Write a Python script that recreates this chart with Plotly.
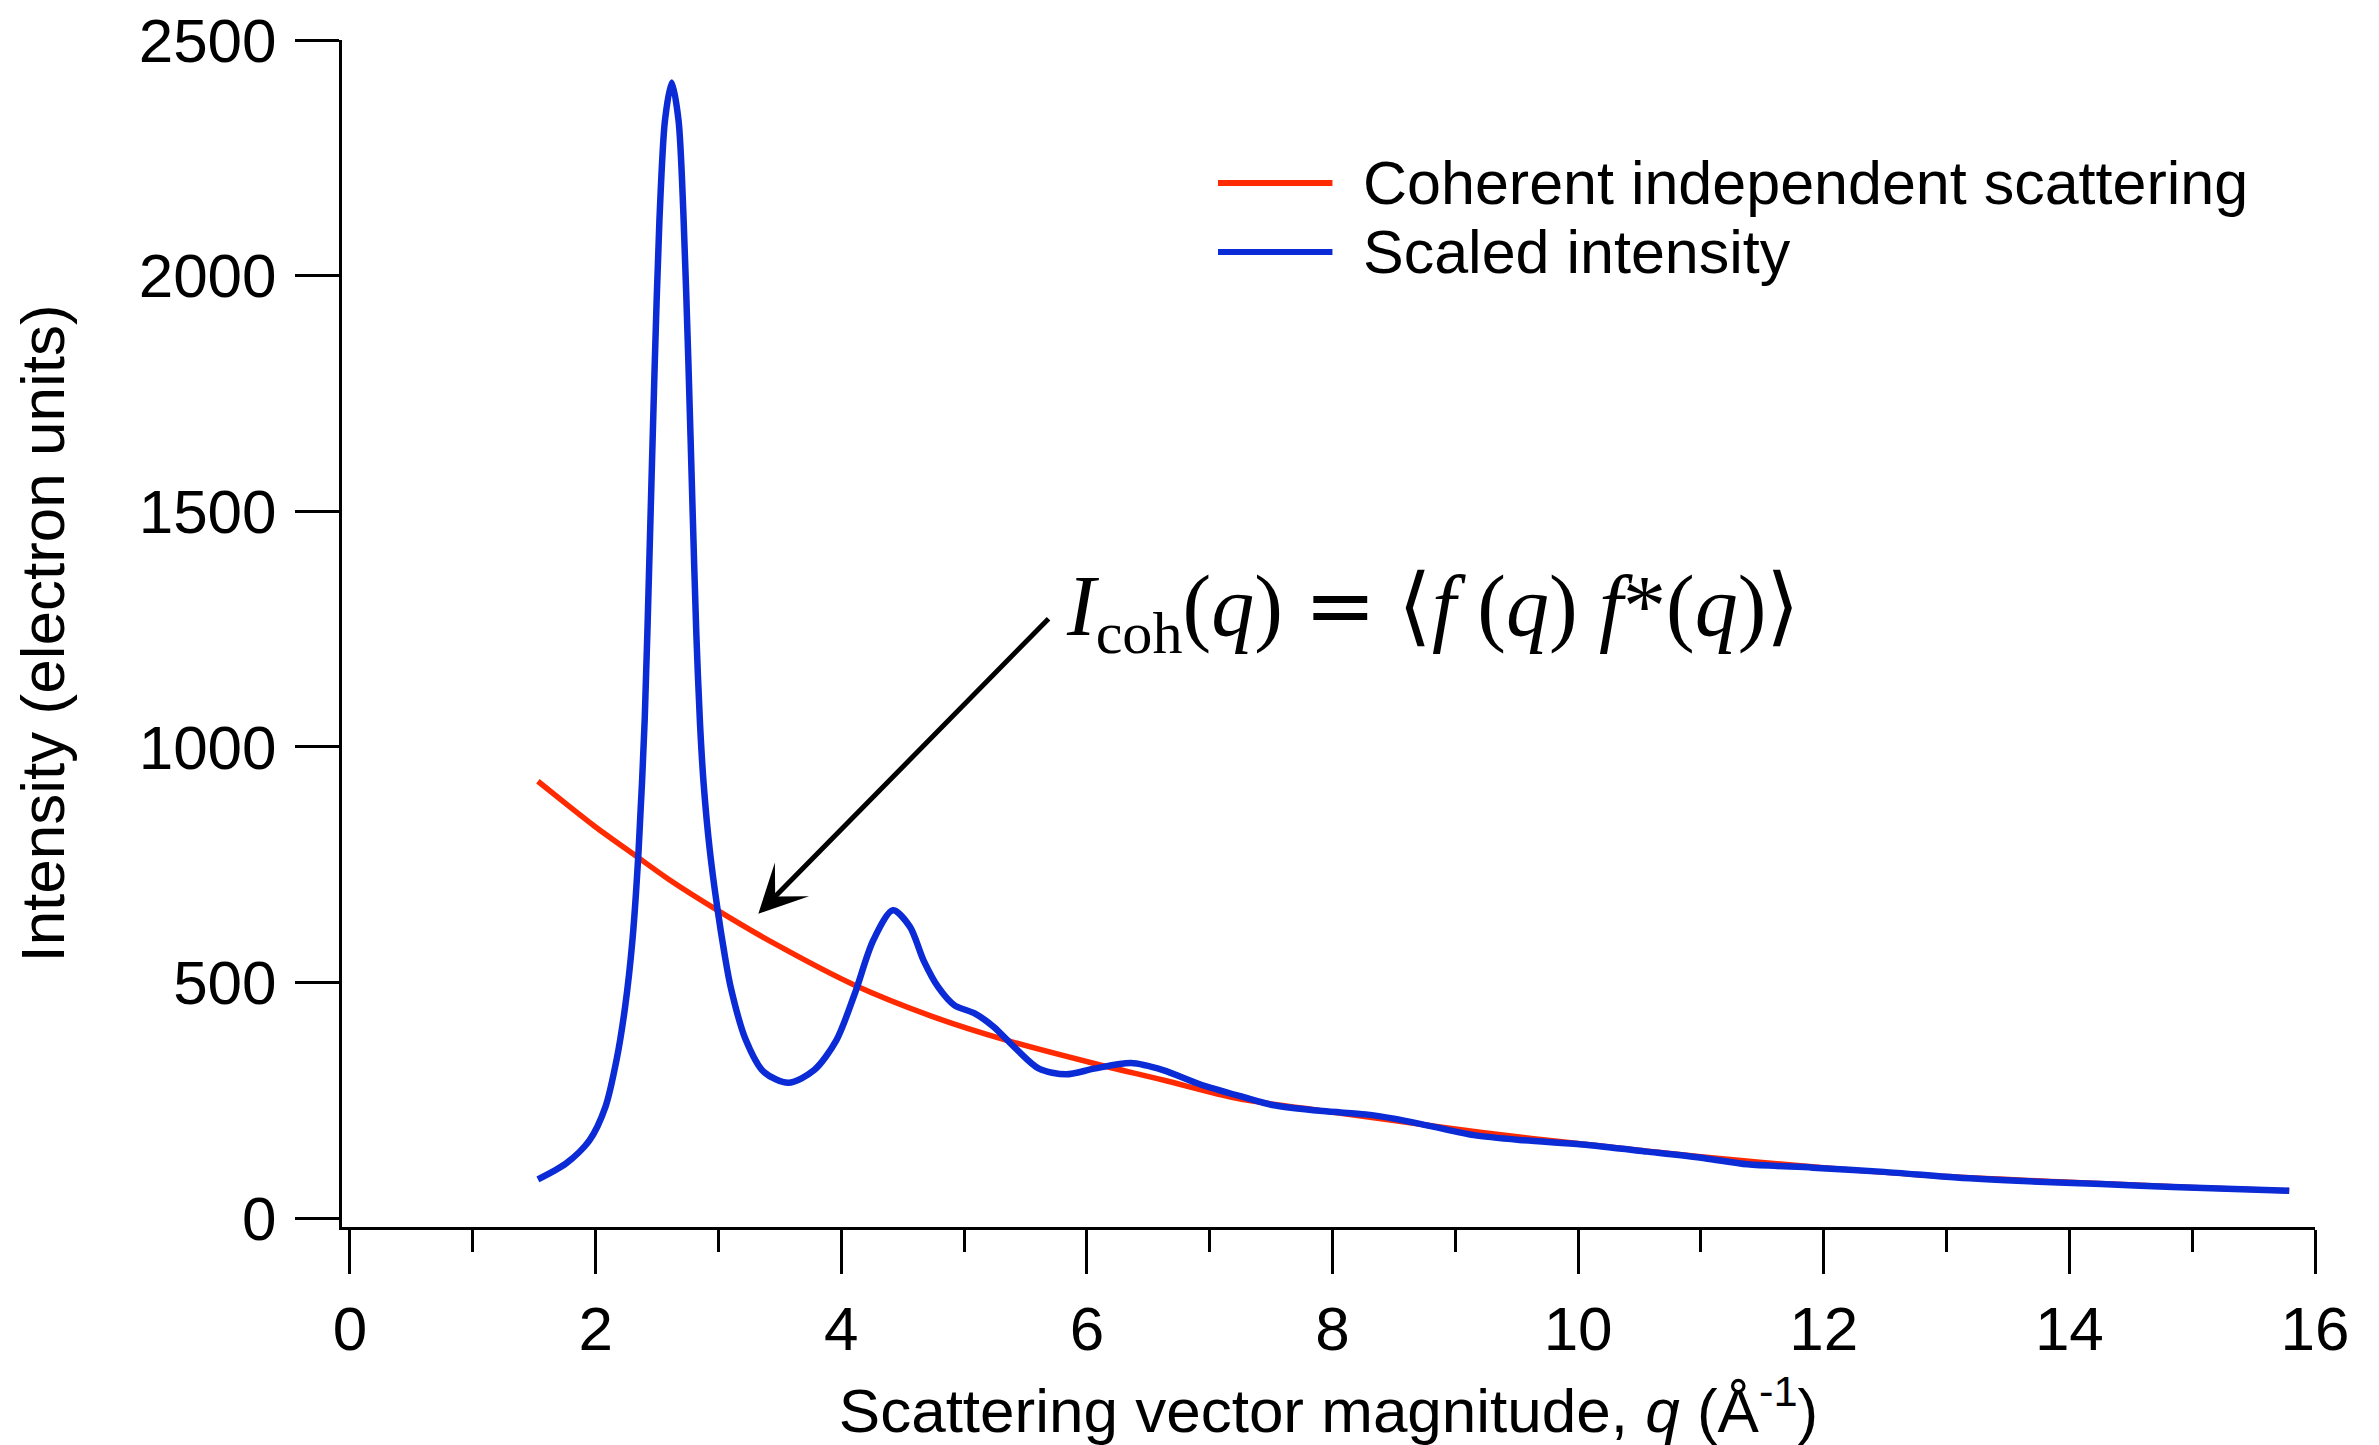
import plotly.graph_objects as go

# ---------------- data ----------------
q_coh = [1.53, 1.76, 2.0, 2.32, 2.6, 3.0, 3.48, 4.11, 4.75, 5.35, 6.06, 6.62,
         7.22, 7.9, 8.5, 9.2, 10.0, 11.0, 12.0, 13.0, 14.0, 15.0, 15.79]
i_coh = [927, 879, 830, 770, 718, 652, 579, 494, 427, 377, 328, 293,
         254, 228, 207, 182, 158, 130, 107, 88, 76, 65, 58]

q_scaled = [1.53, 1.76, 1.95, 2.08, 2.17, 2.24, 2.30, 2.35, 2.40, 2.44, 2.48, 2.52,
            2.565, 2.62, 2.675, 2.715, 2.755, 2.79, 2.82, 2.85, 2.88, 2.93, 2.99,
            3.05, 3.10, 3.22, 3.37, 3.57, 3.78, 3.96, 4.11, 4.26, 4.42, 4.56, 4.67,
            4.79, 4.92, 5.09, 5.24, 5.42, 5.61, 5.83, 6.06, 6.36, 6.62, 6.92, 7.27,
            7.51, 7.92, 8.27, 8.5, 8.8, 9.15, 9.56, 10.03, 10.56, 11.03, 11.38,
            11.91, 12.49, 13.08, 13.67, 14.26, 14.84, 15.79]
i_scaled = [82, 116, 165, 236, 335, 448, 590, 780, 1060, 1420, 1800, 2120,
            2330, 2410, 2330, 2130, 1820, 1500, 1240, 1050, 920, 780, 660,
            560, 490, 380, 310, 287, 314, 377, 476, 589, 653, 618, 547,
            490, 452, 434, 406, 360, 317, 305, 317, 329, 314, 284, 257,
            240, 227, 220, 211, 195, 176, 165, 156, 141, 127, 114,
            107, 98, 86, 78, 72, 66, 58]

series_names = ["Coherent independent scattering", "Scaled intensity"]
x_ticks = [0, 2, 4, 6, 8, 10, 12, 14, 16]
x_minor_ticks = [1, 3, 5, 7, 9, 11, 13, 15]
y_ticks = [0, 500, 1000, 1500, 2000, 2500]

x_title = "Scattering vector magnitude, <i>q</i> (Å<sup>-1</sup>)"
y_title = "Intensity (electron units)"
NB = "\u00a0"
EQ = '<span style="font-family:DejaVu Sans">=</span>'
formula = ("<i>I</i><sub>coh</sub>(<i>q</i>)" + NB + EQ + NB +
           "⟨<i>f</i>" + NB + "(<i>q</i>)" + NB +
           "<i>f</i>*(<i>q</i>)⟩")

# ---------------- style ----------------
RED = "#FF2A00"
BLUE = "#0A2BD6"
SANS = "Liberation Sans, Arial, Helvetica, sans-serif"
SERIF = "Liberation Serif, Times New Roman, serif"

fig = go.Figure()
fig.add_trace(go.Scatter(x=q_coh, y=i_coh, mode="lines", name=series_names[0],
                         line=dict(color=RED, width=5.5, shape="spline", smoothing=0.8)))
fig.add_trace(go.Scatter(x=q_scaled, y=i_scaled, mode="lines", name=series_names[1],
                         line=dict(color=BLUE, width=6.5, shape="spline", smoothing=0.8)))

# the page body has an 8px default margin: compensate so the plot lands where
# the reference has it (plot area x 342..2315, y 40..1227 in page pixels)
fig.update_layout(
    width=2371, height=1437,
    margin=dict(l=334, r=64, t=32, b=218),
    plot_bgcolor="white", paper_bgcolor="white",
    font=dict(family=SANS, size=62, color="black"),
    showlegend=False,
)

fig.update_xaxes(
    range=[-0.065, 16], showgrid=False, zeroline=False, automargin=False,
    showline=True, linecolor="black", linewidth=3,
    ticks="outside", ticklen=44, tickwidth=3, tickcolor="black",
    tickmode="array", tickvals=x_ticks, ticktext=[str(v) for v in x_ticks],
    ticklabelstandoff=2, ticklabeloverflow="allow",
    minor=dict(tickmode="array", tickvals=x_minor_ticks, ticks="outside",
               ticklen=22, tickwidth=3, tickcolor="black", showgrid=False),
    title=dict(text=x_title, standoff=28, font=dict(size=62)),
)
fig.update_yaxes(
    range=[-19, 2500], showgrid=False, zeroline=False, automargin=False,
    showline=True, linecolor="black", linewidth=3,
    ticks="outside", ticklen=44, tickwidth=3, tickcolor="black",
    tickmode="array", tickvals=y_ticks, ticktext=[str(v) for v in y_ticks],
    ticklabelstandoff=6, ticklabeloverflow="allow",
    title=dict(text=y_title, standoff=78, font=dict(size=62)),
)

# arrow pointing at the coherent scattering curve
fig.add_annotation(x=3.325, y=646, ax=5.70, ay=1275, xref="x", yref="y",
                   axref="x", ayref="y", text="", showarrow=True,
                   arrowhead=3, arrowsize=1.6, arrowwidth=5, arrowcolor="black")
# formula
fig.add_annotation(x=5.81, y=1290, xref="x", yref="y", xanchor="left",
                   yanchor="middle", text=formula, showarrow=False,
                   font=dict(family=SERIF, size=86, color="black"))

# custom legend (long line samples like the reference)
legend_rows = [(0.8795, RED), (0.8214, BLUE)]
for (yp, col), name in zip(legend_rows, series_names):
    fig.add_shape(type="line", xref="paper", yref="paper",
                  x0=0.444, x1=0.502, y0=yp, y1=yp,
                  line=dict(color=col, width=6))
    fig.add_annotation(x=0.5165, y=yp, xref="paper", yref="paper",
                       xanchor="left", yanchor="middle", text=name,
                       showarrow=False, font=dict(family=SANS, size=61, color="black"))

fig.write_html("out.html")
